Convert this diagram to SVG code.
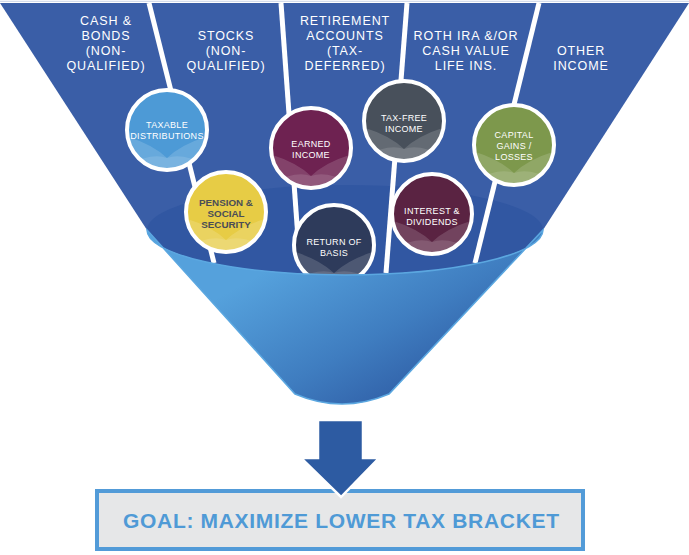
<svg xmlns="http://www.w3.org/2000/svg" width="689" height="555" viewBox="0 0 689 555">
<defs>
<linearGradient id="cone" x1="0" y1="0.1" x2="1" y2="0.9">
<stop offset="0.25" stop-color="#55a1dc"/>
<stop offset="0.6" stop-color="#3f7dc0"/>
<stop offset="0.9" stop-color="#2c57a0"/>
</linearGradient>
<clipPath id="cc"><circle cx="0" cy="0" r="40"/></clipPath>
<style>
.hdr{font-family:"Liberation Sans",Arial,sans-serif;font-size:12.5px;fill:#fff;letter-spacing:0.9px;text-anchor:middle}
.ct{font-family:"Liberation Sans",Arial,sans-serif;font-size:9px;fill:#fff;letter-spacing:0.3px;text-anchor:middle}
.ctb{font-family:"Liberation Sans",Arial,sans-serif;font-size:9.8px;font-weight:bold;fill:#4a4d57;text-anchor:middle}
.ring{stroke:#fff;stroke-width:4}
.s1{fill:#fff;opacity:0.15}
.s2{fill:#fff;opacity:0.12}
.div{stroke:#fff;stroke-width:5;fill:none}
.goal{font-family:"Liberation Sans",Arial,sans-serif;font-size:21px;font-weight:bold;fill:#4f9ad6;text-anchor:middle}
</style>
<g id="shine">
<g clip-path="url(#cc)">
<path class="s1" d="M-42,6 Q-15,14 0,28 Q15,14 42,6 L42,45 L-42,45 Z"/>
<path class="s2" d="M-42,36 Q-15,22 0,28 Q15,22 42,36 L42,45 L-42,45 Z"/>
</g>
</g>
</defs>

<line x1="0" y1="1.3" x2="689" y2="1.3" stroke="#c9d3e6" stroke-width="1"/>
<polygon id="banner" points="0,3 689,3 543,230 147,230" fill="#3a5ea7"/>
<ellipse id="funnel-mouth" cx="345" cy="230" rx="198" ry="45" fill="#3157a2"/>

<g id="dividers">
<line class="div" x1="149" y1="3" x2="214" y2="263"/>
<line class="div" x1="281" y1="3" x2="300" y2="266"/>
<line class="div" x1="407" y1="3" x2="386" y2="273"/>
<line class="div" x1="539" y1="3" x2="475" y2="263"/>
</g>

<g id="labels">
<text class="hdr" x="106" y="25">CASH &amp;</text>
<text class="hdr" x="106" y="40">BONDS</text>
<text class="hdr" x="106" y="55">(NON-</text>
<text class="hdr" x="106" y="70">QUALIFIED)</text>
<text class="hdr" x="226" y="40">STOCKS</text>
<text class="hdr" x="226" y="55">(NON-</text>
<text class="hdr" x="226" y="70">QUALIFIED)</text>
<text class="hdr" x="345" y="25">RETIREMENT</text>
<text class="hdr" x="345" y="40">ACCOUNTS</text>
<text class="hdr" x="345" y="55">(TAX-</text>
<text class="hdr" x="345" y="70">DEFERRED)</text>
<text class="hdr" x="466" y="40">ROTH IRA &amp;/OR</text>
<text class="hdr" x="466" y="55">CASH VALUE</text>
<text class="hdr" x="466" y="70">LIFE INS.</text>
<text class="hdr" x="581" y="55">OTHER</text>
<text class="hdr" x="581" y="70">INCOME</text>
</g>

<g id="taxable" transform="translate(167,130)">
<circle class="ring" r="40" fill="#4d9ad6"/><use href="#shine"/>
<text class="ct" y="-2">TAXABLE</text>
<text class="ct" y="9">DISTRIBUTIONS</text>
</g>
<g id="earned" transform="translate(311,148)">
<circle class="ring" r="40" fill="#6e2251"/><use href="#shine"/>
<text class="ct" y="-1">EARNED</text>
<text class="ct" y="10">INCOME</text>
</g>
<g id="taxfree" transform="translate(404,121)">
<circle class="ring" r="40" fill="#48505b"/><use href="#shine"/>
<text class="ct" y="0">TAX-FREE</text>
<text class="ct" y="11">INCOME</text>
</g>
<g id="capital" transform="translate(514,145)">
<circle class="ring" r="40" fill="#7d984c"/><use href="#shine"/>
<text class="ct" y="-7">CAPITAL</text>
<text class="ct" y="4">GAINS /</text>
<text class="ct" y="15">LOSSES</text>
</g>
<g id="pension" transform="translate(226,212)">
<circle class="ring" r="40" fill="#e7cc45"/><use href="#shine"/>
<text class="ctb" y="-6">PENSION &amp;</text>
<text class="ctb" y="5">SOCIAL</text>
<text class="ctb" y="16">SECURITY</text>
</g>
<g id="interest" transform="translate(432,214)">
<circle class="ring" r="40" fill="#5a2342"/><use href="#shine"/>
<text class="ct" y="0">INTEREST &amp;</text>
<text class="ct" y="11">DIVIDENDS</text>
</g>
<g id="return" transform="translate(334,245)">
<circle class="ring" r="40" fill="#2e3b5b"/><use href="#shine"/>
<text class="ct" y="0">RETURN OF</text>
<text class="ct" y="11">BASIS</text>
</g>

<path id="funnel-cone" d="M147,230 A198,45 0 0 0 543,230 L389,394 Q342,414 295,394 Z" fill="url(#cone)" stroke="#5ba7e0" stroke-width="1.5"/>

<g id="goal">
<rect x="97" y="491" width="486" height="58" fill="#e6e7e8" stroke="#529bd8" stroke-width="4"/>
<text class="goal" x="341" y="528" textLength="436" lengthAdjust="spacing">GOAL: MAXIMIZE LOWER TAX BRACKET</text>
</g>

<g id="connectors">
<polygon points="318,420 363,420 363,458 379,458 341,497 301,458 318,458" fill="#2d5ba2" stroke="#fff" stroke-width="2.5" stroke-linejoin="miter"/>
</g>
</svg>
